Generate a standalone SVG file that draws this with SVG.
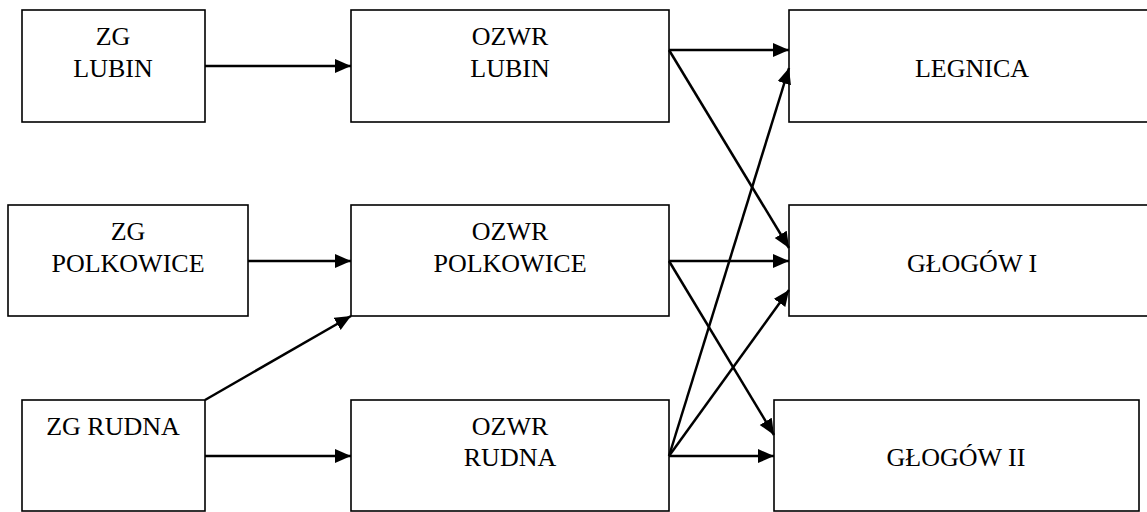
<svg xmlns="http://www.w3.org/2000/svg" width="1147" height="512" viewBox="0 0 1147 512">
<style>
.box{fill:#fff;stroke:#000;stroke-width:1.6}
.lbl{font-family:"Liberation Serif","Times New Roman",serif;font-size:26px;fill:#000;text-anchor:middle}
.con line{stroke:#000;stroke-width:2.5}
</style>
<defs>
<marker id="ah" markerUnits="userSpaceOnUse" markerWidth="18" markerHeight="16" refX="16" refY="7" orient="auto">
<path d="M0,0 L16,7 L0,14 z" fill="#000"/>
</marker>
</defs>
<rect width="1147" height="512" fill="#fff"/>
<g id="zg-lubin"><rect class="box" x="22" y="10" width="183" height="112"/><text class="lbl" x="113" y="45">ZG</text><text class="lbl" x="113" y="77">LUBIN</text></g>
<g id="zg-polkowice"><rect class="box" x="8" y="205" width="240" height="111"/><text class="lbl" x="128" y="240">ZG</text><text class="lbl" x="128" y="272">POLKOWICE</text></g>
<g id="zg-rudna"><rect class="box" x="22" y="400" width="183" height="111"/><text class="lbl" x="113" y="435">ZG RUDNA</text></g>
<g id="ozwr-lubin"><rect class="box" x="351" y="10" width="318" height="112"/><text class="lbl" x="510" y="45">OZWR</text><text class="lbl" x="510" y="77">LUBIN</text></g>
<g id="ozwr-polkowice"><rect class="box" x="351" y="205" width="318" height="111"/><text class="lbl" x="510" y="240">OZWR</text><text class="lbl" x="510" y="272">POLKOWICE</text></g>
<g id="ozwr-rudna"><rect class="box" x="351" y="400" width="318" height="111"/><text class="lbl" x="510" y="435">OZWR</text><text class="lbl" x="510" y="466">RUDNA</text></g>
<g id="legnica"><rect class="box" x="789" y="10" width="366" height="112"/><text class="lbl" x="972" y="77">LEGNICA</text></g>
<g id="glogow1"><rect class="box" x="789" y="205" width="366" height="111"/><text class="lbl" x="972" y="272">GŁOGÓW I</text></g>
<g id="glogow2"><rect class="box" x="774" y="400" width="365" height="111"/><text class="lbl" x="956" y="466">GŁOGÓW II</text></g>
<g id="connectors" class="con">
<line x1="205" y1="66" x2="351" y2="66" marker-end="url(#ah)"/>
<line x1="248" y1="261" x2="351" y2="261" marker-end="url(#ah)"/>
<line x1="205" y1="400" x2="351" y2="316" marker-end="url(#ah)"/>
<line x1="205" y1="456" x2="351" y2="456" marker-end="url(#ah)"/>
<line x1="669" y1="50" x2="789" y2="50" marker-end="url(#ah)"/>
<line x1="669" y1="50" x2="789" y2="248" marker-end="url(#ah)"/>
<line x1="669" y1="261" x2="789" y2="261" marker-end="url(#ah)"/>
<line x1="669" y1="261" x2="774" y2="435" marker-end="url(#ah)"/>
<line x1="669" y1="456" x2="774" y2="456" marker-end="url(#ah)"/>
<line x1="669" y1="456" x2="789" y2="68" marker-end="url(#ah)"/>
<line x1="669" y1="456" x2="789" y2="290" marker-end="url(#ah)"/>
</g>
</svg>
